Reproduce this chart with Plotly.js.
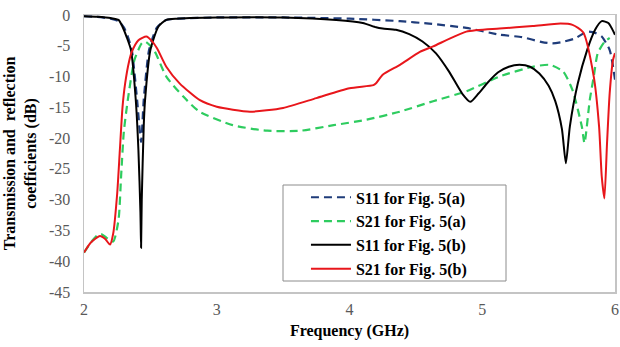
<!DOCTYPE html>
<html>
<head>
<meta charset="utf-8">
<script src="https://cdn.plot.ly/plotly-3.0.1.min.js"></script>
<style>html,body{margin:0;padding:0;background:#fff;}#chart{width:620px;height:347px;}</style>
</head>
<body>
<div id="chart"></div>
<script>
// Frequency (GHz) and magnitude (dB)
const s11aFreq = [2.0, 2.1, 2.2, 2.26, 2.3, 2.33, 2.36, 2.4, 2.43, 2.45, 2.49, 2.55, 2.62, 2.7, 3.0, 3.5, 4.0, 4.38, 4.6, 4.88, 5.13, 5.3, 5.45, 5.53, 5.6, 5.7, 5.79, 5.85, 5.9, 5.96, 6.0];
const s11aDb   = [-0.2, -0.3, -0.6, -1.0, -2.0, -3.5, -5.7, -13.8, -20.6, -13.8, -5.7, -2.0, -0.8, -0.6, -0.4, -0.4, -0.6, -1.0, -1.4, -2.1, -3.2, -3.6, -4.4, -4.6, -4.4, -3.8, -2.7, -2.9, -3.5, -5.7, -10.5];

const s21aFreq = [2.0, 2.05, 2.105, 2.13, 2.17, 2.22, 2.26, 2.28, 2.3, 2.33, 2.38, 2.435, 2.46, 2.5, 2.535, 2.62, 2.75, 2.87, 3.12, 3.38, 3.63, 3.88, 4.13, 4.38, 4.63, 4.88, 5.13, 5.38, 5.51, 5.61, 5.68, 5.75, 5.77, 5.81, 5.84, 5.87, 5.92, 5.96];
const s21aDb   = [-38.6, -37.0, -35.7, -35.6, -36.2, -36.8, -33.3, -26.0, -19.0, -13.8, -7.3, -4.6, -4.3, -5.0, -6.0, -10.0, -13.3, -15.7, -17.9, -18.8, -18.8, -17.9, -17.0, -15.7, -14.0, -12.4, -10.0, -8.4, -8.1, -9.2, -12.2, -18.1, -20.8, -13.8, -10.0, -6.2, -4.4, -3.7];

const s11bFreq = [2.0, 2.1, 2.2, 2.26, 2.29, 2.32, 2.354, 2.39, 2.41, 2.425, 2.43, 2.435, 2.45, 2.46, 2.5, 2.56, 2.62, 2.7, 2.8, 3.0, 3.5, 3.9, 4.1, 4.2, 4.25, 4.35, 4.45, 4.55, 4.65, 4.75, 4.85, 4.91, 4.97, 5.04, 5.12, 5.2, 5.28, 5.36, 5.43, 5.5, 5.55, 5.6, 5.63, 5.66, 5.72, 5.79, 5.85, 5.9, 5.95, 6.0];
const s11bDb   = [-0.2, -0.3, -0.5, -0.8, -1.9, -3.5, -5.7, -13.8, -22.0, -32.0, -37.8, -30.0, -18.0, -13.8, -5.7, -1.9, -0.8, -0.6, -0.5, -0.4, -0.4, -0.8, -1.3, -2.0, -2.2, -2.4, -3.1, -4.3, -6.2, -9.2, -12.8, -14.1, -12.8, -11.0, -9.3, -8.4, -8.1, -8.4, -9.5, -11.5, -14.0, -18.5, -24.1, -18.1, -11.1, -5.7, -2.4, -1.0, -1.3, -3.2];

const s21bFreq = [2.0, 2.05, 2.12, 2.16, 2.196, 2.22, 2.25, 2.27, 2.29, 2.31, 2.34, 2.36, 2.41, 2.47, 2.51, 2.55, 2.62, 2.72, 2.87, 3.0, 3.25, 3.5, 3.75, 4.0, 4.18, 4.2, 4.25, 4.38, 4.53, 4.63, 4.88, 5.13, 5.38, 5.59, 5.68, 5.76, 5.84, 5.88, 5.9, 5.92, 5.94, 5.96, 5.985, 6.0];
const s21bDb   = [-38.6, -37.0, -35.9, -36.4, -37.3, -35.5, -29.0, -22.0, -15.0, -11.1, -7.5, -6.0, -4.1, -3.5, -4.2, -5.4, -8.4, -11.1, -13.8, -14.9, -15.7, -15.1, -13.5, -11.9, -11.4, -11.1, -9.7, -8.1, -6.0, -5.1, -2.7, -2.2, -1.8, -1.4, -1.6, -2.8, -10.0, -18.1, -26.2, -29.8, -20.8, -12.7, -7.3, -6.2];

const seriesNames = ['S11 for Fig. 5(a)', 'S21 for Fig. 5(a)', 'S11 for Fig. 5(b)', 'S21 for Fig. 5(b)'];
const xTicks = [2, 3, 4, 5, 6];
const yTicks = [0, -5, -10, -15, -20, -25, -30, -35, -40, -45];

const serif = "'Liberation Serif', 'Times New Roman', serif";

const traces = [
  {x: s11aFreq, y: s11aDb, name: '<b>' + seriesNames[0] + '</b>', legendgroup: 'a1',
   line: {color: '#1f3c7a', width: 2.2, dash: '8px,5px', shape: 'spline', smoothing: 0.6}},
  {x: s21aFreq, y: s21aDb, name: '<b>' + seriesNames[1] + '</b>', legendgroup: 'a2',
   line: {color: '#2ecc5f', width: 2.2, dash: '8px,5px', shape: 'spline', smoothing: 0.6}},
  {x: s11bFreq, y: s11bDb, name: '<b>' + seriesNames[2] + '</b>', legendgroup: 'b1',
   line: {color: '#000000', width: 2, shape: 'spline', smoothing: 0.6}},
  {x: s21bFreq, y: s21bDb, name: '<b>' + seriesNames[3] + '</b>', legendgroup: 'b2',
   line: {color: '#e8161b', width: 2, shape: 'spline', smoothing: 0.6}}
].map(t => Object.assign({type: 'scatter', mode: 'lines', hoverinfo: 'skip'}, t));

const layout = {
  width: 620, height: 347,
  margin: {l: 84, r: 5, t: 15, b: 55},
  paper_bgcolor: '#ffffff', plot_bgcolor: '#ffffff',
  showlegend: true,
  font: {family: serif, color: '#000'},
  xaxis: {
    range: [2, 6], tickvals: xTicks, ticktext: xTicks.map(String),
    showgrid: false, zeroline: false, ticks: '',
    showline: true, mirror: true, linecolor: '#c4c4c4', linewidth: 1.5,
    tickfont: {family: serif, size: 16, color: '#595959'},
    ticklabelstandoff: 2,
    title: {text: '<b>Frequency (GHz)</b>', font: {family: serif, size: 16, color: '#000'}, standoff: 8}
  },
  yaxis: {
    range: [-45, 0], tickvals: yTicks, ticktext: yTicks.map(String),
    showgrid: false, zeroline: false, ticks: '',
    showline: true, mirror: true, linecolor: '#c4c4c4', linewidth: 1.5,
    tickfont: {family: serif, size: 16, color: '#595959'},
    ticklabelstandoff: 9,
    title: {text: '<b>Transmission and  reflection<br>coefficients (dB)</b>', font: {family: serif, size: 16, color: '#000'}, standoff: 8}
  },
  legend: {
    x: 0.418, y: 0.403, xanchor: 'left', yanchor: 'top',
    bgcolor: 'rgba(0,0,0,0)', borderwidth: 0,
    font: {family: serif, size: 16, color: '#000'},
    tracegroupgap: 0, itemwidth: 40
  },
  shapes: [{
    type: 'rect', xref: 'paper', yref: 'paper', layer: 'below',
    x0: (283 - 84) / 531, x1: (506 - 84) / 531,
    y0: (292 - 281) / 277, y1: (292 - 185) / 277,
    line: {color: '#8c8c8c', width: 1}, fillcolor: '#ffffff'
  }]
};

Plotly.newPlot('chart', traces, layout, {staticPlot: true, displayModeBar: false});
</script>
</body>
</html>
